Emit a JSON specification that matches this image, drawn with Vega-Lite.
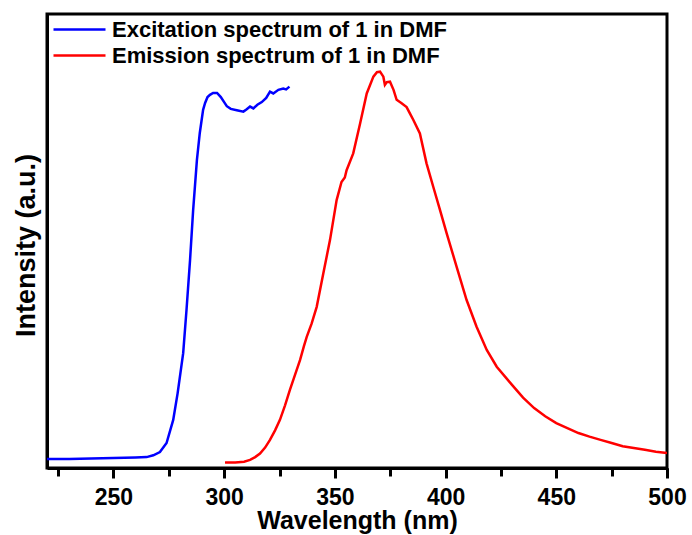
{
  "$schema": "https://vega.github.io/schema/vega-lite/v6.json",
  "autosize": {"type": "none"},
  "width": 620,
  "height": 454,
  "padding": {"left": 47, "top": 14, "right": 25, "bottom": 67},
  "background": "white",
  "config": {
    "view": {"stroke": "black", "strokeWidth": 3},
    "font": "Liberation Sans"
  },
  "data": {"values": [
    {"series": "Excitation spectrum of 1 in DMF", "nm": 220, "intensity": 0.020},
    {"series": "Excitation spectrum of 1 in DMF", "nm": 230, "intensity": 0.020},
    {"series": "Excitation spectrum of 1 in DMF", "nm": 240, "intensity": 0.021},
    {"series": "Excitation spectrum of 1 in DMF", "nm": 250, "intensity": 0.022},
    {"series": "Excitation spectrum of 1 in DMF", "nm": 260, "intensity": 0.023},
    {"series": "Excitation spectrum of 1 in DMF", "nm": 265, "intensity": 0.024},
    {"series": "Excitation spectrum of 1 in DMF", "nm": 268, "intensity": 0.028},
    {"series": "Excitation spectrum of 1 in DMF", "nm": 271, "intensity": 0.035},
    {"series": "Excitation spectrum of 1 in DMF", "nm": 274, "intensity": 0.055},
    {"series": "Excitation spectrum of 1 in DMF", "nm": 277, "intensity": 0.106},
    {"series": "Excitation spectrum of 1 in DMF", "nm": 279, "intensity": 0.165},
    {"series": "Excitation spectrum of 1 in DMF", "nm": 281.5, "intensity": 0.253},
    {"series": "Excitation spectrum of 1 in DMF", "nm": 283, "intensity": 0.348},
    {"series": "Excitation spectrum of 1 in DMF", "nm": 284.6, "intensity": 0.458},
    {"series": "Excitation spectrum of 1 in DMF", "nm": 286, "intensity": 0.568},
    {"series": "Excitation spectrum of 1 in DMF", "nm": 287.7, "intensity": 0.678},
    {"series": "Excitation spectrum of 1 in DMF", "nm": 289, "intensity": 0.738},
    {"series": "Excitation spectrum of 1 in DMF", "nm": 290.5, "intensity": 0.789},
    {"series": "Excitation spectrum of 1 in DMF", "nm": 291.4, "intensity": 0.804},
    {"series": "Excitation spectrum of 1 in DMF", "nm": 292.5, "intensity": 0.817},
    {"series": "Excitation spectrum of 1 in DMF", "nm": 293.6, "intensity": 0.822},
    {"series": "Excitation spectrum of 1 in DMF", "nm": 295, "intensity": 0.826},
    {"series": "Excitation spectrum of 1 in DMF", "nm": 296.8, "intensity": 0.826},
    {"series": "Excitation spectrum of 1 in DMF", "nm": 298.5, "intensity": 0.817},
    {"series": "Excitation spectrum of 1 in DMF", "nm": 300, "intensity": 0.806},
    {"series": "Excitation spectrum of 1 in DMF", "nm": 301.2, "intensity": 0.797},
    {"series": "Excitation spectrum of 1 in DMF", "nm": 303, "intensity": 0.791},
    {"series": "Excitation spectrum of 1 in DMF", "nm": 305.7, "intensity": 0.788},
    {"series": "Excitation spectrum of 1 in DMF", "nm": 308.7, "intensity": 0.785},
    {"series": "Excitation spectrum of 1 in DMF", "nm": 310.2, "intensity": 0.790},
    {"series": "Excitation spectrum of 1 in DMF", "nm": 311.7, "intensity": 0.796},
    {"series": "Excitation spectrum of 1 in DMF", "nm": 313.2, "intensity": 0.792},
    {"series": "Excitation spectrum of 1 in DMF", "nm": 315, "intensity": 0.800},
    {"series": "Excitation spectrum of 1 in DMF", "nm": 317, "intensity": 0.806},
    {"series": "Excitation spectrum of 1 in DMF", "nm": 319, "intensity": 0.815},
    {"series": "Excitation spectrum of 1 in DMF", "nm": 320.7, "intensity": 0.829},
    {"series": "Excitation spectrum of 1 in DMF", "nm": 322.2, "intensity": 0.825},
    {"series": "Excitation spectrum of 1 in DMF", "nm": 324.5, "intensity": 0.833},
    {"series": "Excitation spectrum of 1 in DMF", "nm": 326.7, "intensity": 0.836},
    {"series": "Excitation spectrum of 1 in DMF", "nm": 328, "intensity": 0.834},
    {"series": "Excitation spectrum of 1 in DMF", "nm": 329.5, "intensity": 0.840},
    {"series": "Emission spectrum of 1 in DMF", "nm": 300.4, "intensity": 0.012},
    {"series": "Emission spectrum of 1 in DMF", "nm": 305, "intensity": 0.012},
    {"series": "Emission spectrum of 1 in DMF", "nm": 309, "intensity": 0.014},
    {"series": "Emission spectrum of 1 in DMF", "nm": 311.7, "intensity": 0.018},
    {"series": "Emission spectrum of 1 in DMF", "nm": 314, "intensity": 0.024},
    {"series": "Emission spectrum of 1 in DMF", "nm": 316.2, "intensity": 0.032},
    {"series": "Emission spectrum of 1 in DMF", "nm": 318.5, "intensity": 0.045},
    {"series": "Emission spectrum of 1 in DMF", "nm": 320.7, "intensity": 0.062},
    {"series": "Emission spectrum of 1 in DMF", "nm": 323, "intensity": 0.083},
    {"series": "Emission spectrum of 1 in DMF", "nm": 325.2, "intensity": 0.106},
    {"series": "Emission spectrum of 1 in DMF", "nm": 327.5, "intensity": 0.138},
    {"series": "Emission spectrum of 1 in DMF", "nm": 329.7, "intensity": 0.172},
    {"series": "Emission spectrum of 1 in DMF", "nm": 332, "intensity": 0.205},
    {"series": "Emission spectrum of 1 in DMF", "nm": 334.3, "intensity": 0.238},
    {"series": "Emission spectrum of 1 in DMF", "nm": 336, "intensity": 0.268},
    {"series": "Emission spectrum of 1 in DMF", "nm": 337.3, "intensity": 0.289},
    {"series": "Emission spectrum of 1 in DMF", "nm": 339.5, "intensity": 0.318},
    {"series": "Emission spectrum of 1 in DMF", "nm": 341.8, "intensity": 0.355},
    {"series": "Emission spectrum of 1 in DMF", "nm": 344.8, "intensity": 0.429},
    {"series": "Emission spectrum of 1 in DMF", "nm": 347.8, "intensity": 0.502},
    {"series": "Emission spectrum of 1 in DMF", "nm": 350.8, "intensity": 0.590},
    {"series": "Emission spectrum of 1 in DMF", "nm": 353, "intensity": 0.630},
    {"series": "Emission spectrum of 1 in DMF", "nm": 354.5, "intensity": 0.640},
    {"series": "Emission spectrum of 1 in DMF", "nm": 355.3, "intensity": 0.656},
    {"series": "Emission spectrum of 1 in DMF", "nm": 358.3, "intensity": 0.693},
    {"series": "Emission spectrum of 1 in DMF", "nm": 361.4, "intensity": 0.759},
    {"series": "Emission spectrum of 1 in DMF", "nm": 364.4, "intensity": 0.825},
    {"series": "Emission spectrum of 1 in DMF", "nm": 367.4, "intensity": 0.862},
    {"series": "Emission spectrum of 1 in DMF", "nm": 369, "intensity": 0.872},
    {"series": "Emission spectrum of 1 in DMF", "nm": 370.4, "intensity": 0.873},
    {"series": "Emission spectrum of 1 in DMF", "nm": 371.9, "intensity": 0.862},
    {"series": "Emission spectrum of 1 in DMF", "nm": 372.6, "intensity": 0.844},
    {"series": "Emission spectrum of 1 in DMF", "nm": 373.5, "intensity": 0.850},
    {"series": "Emission spectrum of 1 in DMF", "nm": 374.9, "intensity": 0.851},
    {"series": "Emission spectrum of 1 in DMF", "nm": 376.5, "intensity": 0.833},
    {"series": "Emission spectrum of 1 in DMF", "nm": 377.9, "intensity": 0.811},
    {"series": "Emission spectrum of 1 in DMF", "nm": 380, "intensity": 0.804},
    {"series": "Emission spectrum of 1 in DMF", "nm": 382.4, "intensity": 0.795},
    {"series": "Emission spectrum of 1 in DMF", "nm": 384, "intensity": 0.780},
    {"series": "Emission spectrum of 1 in DMF", "nm": 385.4, "intensity": 0.767},
    {"series": "Emission spectrum of 1 in DMF", "nm": 388.4, "intensity": 0.737},
    {"series": "Emission spectrum of 1 in DMF", "nm": 391.4, "intensity": 0.671},
    {"series": "Emission spectrum of 1 in DMF", "nm": 394.4, "intensity": 0.620},
    {"series": "Emission spectrum of 1 in DMF", "nm": 397.5, "intensity": 0.568},
    {"series": "Emission spectrum of 1 in DMF", "nm": 400.5, "intensity": 0.517},
    {"series": "Emission spectrum of 1 in DMF", "nm": 405, "intensity": 0.443},
    {"series": "Emission spectrum of 1 in DMF", "nm": 409.5, "intensity": 0.370},
    {"series": "Emission spectrum of 1 in DMF", "nm": 414, "intensity": 0.311},
    {"series": "Emission spectrum of 1 in DMF", "nm": 418.6, "intensity": 0.260},
    {"series": "Emission spectrum of 1 in DMF", "nm": 423.1, "intensity": 0.223},
    {"series": "Emission spectrum of 1 in DMF", "nm": 430, "intensity": 0.183},
    {"series": "Emission spectrum of 1 in DMF", "nm": 435, "intensity": 0.155},
    {"series": "Emission spectrum of 1 in DMF", "nm": 440, "intensity": 0.132},
    {"series": "Emission spectrum of 1 in DMF", "nm": 445, "intensity": 0.114},
    {"series": "Emission spectrum of 1 in DMF", "nm": 450, "intensity": 0.099},
    {"series": "Emission spectrum of 1 in DMF", "nm": 455, "intensity": 0.088},
    {"series": "Emission spectrum of 1 in DMF", "nm": 460, "intensity": 0.077},
    {"series": "Emission spectrum of 1 in DMF", "nm": 465, "intensity": 0.069},
    {"series": "Emission spectrum of 1 in DMF", "nm": 470, "intensity": 0.062},
    {"series": "Emission spectrum of 1 in DMF", "nm": 475, "intensity": 0.055},
    {"series": "Emission spectrum of 1 in DMF", "nm": 480, "intensity": 0.048},
    {"series": "Emission spectrum of 1 in DMF", "nm": 485, "intensity": 0.044},
    {"series": "Emission spectrum of 1 in DMF", "nm": 490, "intensity": 0.040},
    {"series": "Emission spectrum of 1 in DMF", "nm": 495, "intensity": 0.036},
    {"series": "Emission spectrum of 1 in DMF", "nm": 500, "intensity": 0.033}
  ]},
  "resolve": {"axis": {"x": "independent"}},
  "layer": [
    {
      "mark": {"type": "line", "strokeWidth": 2.5, "clip": true},
      "encoding": {
        "x": {
          "field": "nm", "type": "quantitative",
          "scale": {"domain": [220, 500], "nice": false, "zero": false},
          "axis": {
            "orient": "bottom",
            "title": "Wavelength (nm)",
            "values": [225, 250, 275, 300, 325, 350, 375, 400, 425, 450, 475, 500],
            "labelExpr": "datum.value % 50 === 0 ? datum.label : ''",
            "grid": false,
            "domainColor": "black", "domainWidth": 3,
            "ticks": true, "tickColor": "black", "tickWidth": 3, "tickSize": 8,
            "labelFont": "Liberation Sans", "labelFontWeight": "bold", "labelFontSize": 23, "labelColor": "black",
            "labelPadding": 10, "labelFlush": false, "labelOverlap": false,
            "titleFont": "Liberation Sans", "titleFontWeight": "bold", "titleFontSize": 25, "titleColor": "black",
            "titleBaseline": "alphabetic", "titleY": 60
          }
        },
        "y": {
          "field": "intensity", "type": "quantitative",
          "scale": {"domain": [0, 1], "nice": false},
          "axis": {
            "title": "Intensity (a.u.)",
            "labels": false, "ticks": false, "grid": false,
            "domainColor": "black", "domainWidth": 3,
            "titleFont": "Liberation Sans", "titleFontWeight": "bold", "titleFontSize": 27, "titleColor": "black",
            "titleBaseline": "alphabetic", "titleX": -13, "titleY": 231
          }
        },
        "color": {
          "field": "series", "type": "nominal",
          "scale": {"domain": ["Excitation spectrum of 1 in DMF", "Emission spectrum of 1 in DMF"], "range": ["#0000ff", "#ff0000"]},
          "legend": {
            "title": null, "orient": "none", "legendX": 21, "legendY": 4,
            "symbolType": "M-2.6,0L2.6,0", "symbolSize": 400, "symbolStrokeWidth": 2.5,
            "labelFont": "Liberation Sans", "labelFontWeight": "bold", "labelFontSize": 22, "labelColor": "black",
            "labelOffset": 21, "padding": 0, "rowPadding": 3, "labelLimit": 500
          }
        }
      }
    },
    {
      "mark": {"type": "line", "strokeOpacity": 0, "clip": true},
      "encoding": {
        "x": {
          "field": "nm", "type": "quantitative",
          "axis": {
            "orient": "bottom", "offset": 0,
            "title": null,
            "values": [250, 300, 350, 400, 450, 500],
            "labels": false, "domain": false, "grid": false,
            "ticks": true, "tickColor": "black", "tickWidth": 3, "tickSize": 10
          }
        },
        "y": {"field": "intensity", "type": "quantitative"},
        "detail": {"field": "series"}
      }
    }
  ]
}
